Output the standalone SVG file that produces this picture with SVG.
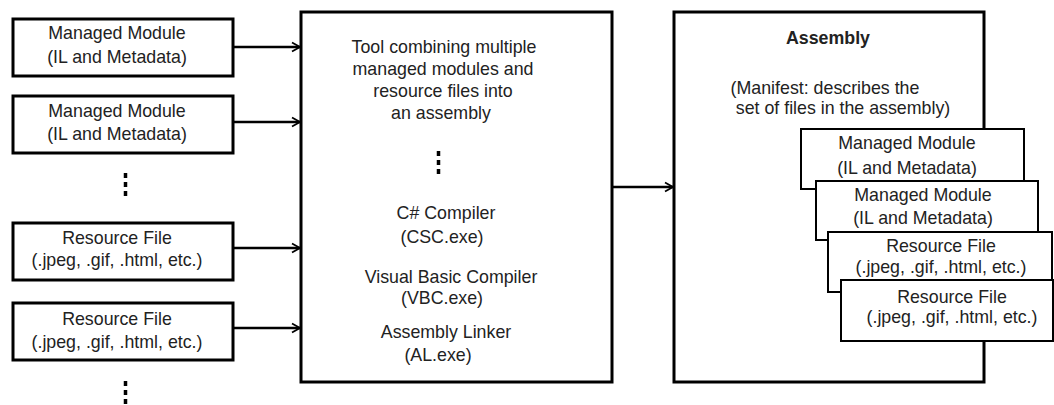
<svg xmlns="http://www.w3.org/2000/svg" width="1054" height="405" viewBox="0 0 1054 405">
<style>
.bx{fill:#fff;stroke:#000;stroke-width:3}
.sb{fill:#fff;stroke:#000;stroke-width:2}
.t{font-family:"Liberation Sans",Arial,sans-serif;font-size:17.8px;fill:#222;text-anchor:middle}
.b{font-weight:bold}
.c{stroke:#000;stroke-width:2.5;fill:none;marker-end:url(#ah)}
.dots{stroke:#000;stroke-width:3.5;stroke-dasharray:5 4}
</style>
<defs>
<marker id="ah" markerWidth="12" markerHeight="12" refX="9" refY="6" orient="auto" markerUnits="userSpaceOnUse">
<path d="M1,1.5 L9,6 L1,10.5" fill="none" stroke="#000" stroke-width="1.8"/>
</marker>
</defs>
<rect width="1054" height="405" fill="#fff"/>
<g id="connectors">
<line class="c" x1="233" y1="47" x2="300" y2="47"/>
<line class="c" x1="233" y1="122" x2="300" y2="122"/>
<line class="c" x1="233" y1="248" x2="300" y2="248"/>
<line class="c" x1="233" y1="328" x2="300" y2="328"/>
<line class="c" x1="612" y1="187" x2="673" y2="187"/>
</g>
<g id="mm1"><rect class="bx" x="13" y="19" width="220" height="57"/><text class="t" x="117" y="39">Managed Module</text><text class="t" x="117" y="63">(IL and Metadata)</text></g>
<g id="mm2"><rect class="bx" x="13" y="96" width="220" height="57"/><text class="t" x="117" y="117">Managed Module</text><text class="t" x="117" y="140">(IL and Metadata)</text></g>
<g id="dots1"><line class="dots" x1="125.5" y1="173" x2="125.5" y2="198"/></g>
<g id="rf1"><rect class="bx" x="13" y="223" width="220" height="57"/><text class="t" x="117" y="244">Resource File</text><text class="t" x="117" y="266">(.jpeg, .gif, .html, etc.)</text></g>
<g id="rf2"><rect class="bx" x="13" y="303" width="220" height="57"/><text class="t" x="117" y="325">Resource File</text><text class="t" x="117" y="348">(.jpeg, .gif, .html, etc.)</text></g>
<g id="dots2"><line class="dots" x1="125.5" y1="381" x2="125.5" y2="405"/></g>
<g id="tool">
<rect class="bx" x="301" y="12" width="311" height="370"/>
<text class="t" x="444" y="53">Tool combining multiple</text>
<text class="t" x="443" y="75">managed modules and</text>
<text class="t" x="443" y="97">resource files into</text>
<text class="t" x="441" y="119">an assembly</text>
<line class="dots" x1="438.5" y1="151" x2="438.5" y2="176"/>
<text class="t" x="446" y="219">C# Compiler</text>
<text class="t" x="442" y="243">(CSC.exe)</text>
<text class="t" x="451" y="283">Visual Basic Compiler</text>
<text class="t" x="442" y="304">(VBC.exe)</text>
<text class="t" x="446" y="338">Assembly Linker</text>
<text class="t" x="438" y="361">(AL.exe)</text>
</g>
<g id="assembly">
<rect class="bx" x="674" y="12" width="310" height="370"/>
<text class="t b" x="828" y="44">Assembly</text>
<text class="t" x="825" y="94">(Manifest: describes the</text>
<text class="t" x="843" y="114">set of files in the assembly)</text>
</g>
<g id="amm1"><rect class="sb" x="801" y="129" width="223" height="60"/><text class="t" x="907" y="149">Managed Module</text><text class="t" x="907" y="174">(IL and Metadata)</text></g>
<g id="amm2"><rect class="sb" x="816" y="181" width="222" height="59"/><text class="t" x="923" y="201">Managed Module</text><text class="t" x="923" y="224">(IL and Metadata)</text></g>
<g id="arf1"><rect class="sb" x="828" y="232" width="224" height="60"/><text class="t" x="941" y="252">Resource File</text><text class="t" x="941" y="273">(.jpeg, .gif, .html, etc.)</text></g>
<g id="arf2"><rect class="sb" x="841" y="280" width="212" height="61"/><text class="t" x="952" y="303">Resource File</text><text class="t" x="952" y="323">(.jpeg, .gif, .html, etc.)</text></g>
</svg>
